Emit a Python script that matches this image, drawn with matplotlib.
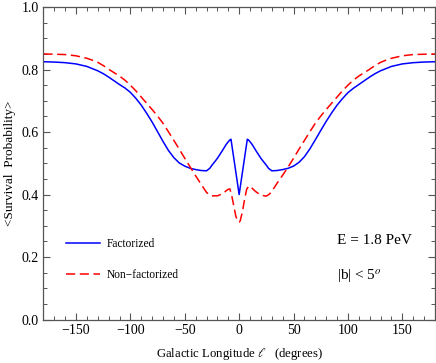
import matplotlib
matplotlib.use('Agg')
from matplotlib import pyplot as plt
from matplotlib.ticker import MultipleLocator
import numpy as np

plt.rcParams['font.family'] = ['Liberation Serif', 'DejaVu Serif']
plt.rcParams['mathtext.fontset'] = 'stix'

# galactic longitude (degrees)
lon_fact = [-180, -170, -160, -150, -145, -140, -135, -130, -125, -120, -115, -110, -105,
            -100, -95, -90, -85, -80, -75, -70, -65, -60, -55, -50, -45, -40, -35, -30,
            -27, -25, -22, -20, -17, -15, -12, -10, -8.5, -7.5, 0,
            7.5, 8.5, 10, 12, 15, 17, 20, 22, 25, 27, 30, 35, 40, 45, 50, 55, 60, 65,
            70, 75, 80, 85, 90, 95, 100, 105, 110, 115, 120, 125, 130, 135, 140, 145,
            150, 160, 170, 180]
surv_fact = [0.825, 0.824, 0.822, 0.818, 0.814, 0.810, 0.803, 0.796, 0.787, 0.776, 0.764,
             0.752, 0.741, 0.727, 0.708, 0.686, 0.660, 0.632, 0.601, 0.570, 0.541, 0.518,
             0.501, 0.491, 0.484, 0.480, 0.477, 0.476, 0.484, 0.494, 0.507, 0.516, 0.532,
             0.543, 0.560, 0.569, 0.575, 0.577, 0.400,
             0.577, 0.575, 0.569, 0.560, 0.543, 0.532, 0.516, 0.507, 0.494, 0.484, 0.476,
             0.477, 0.480, 0.484, 0.491, 0.503, 0.521, 0.546, 0.575, 0.605, 0.634, 0.661,
             0.686, 0.707, 0.726, 0.740, 0.752, 0.764, 0.776, 0.787, 0.796, 0.803, 0.810,
             0.814, 0.818, 0.822, 0.824, 0.825]

lon_nonfact = [-180, -170, -160, -150, -145, -140, -135, -130, -125, -120, -115, -110,
               -105, -100, -95, -90, -85, -80, -75, -70, -65, -60, -55, -50, -45, -40,
               -35, -30, -27, -25, -20, -15, -12, -10, -8.5, -7, -5, -3, -1, 0, 1, 3, 5,
               7, 9, 10, 12, 15, 20, 25, 28, 30, 35, 40, 45, 50, 55, 60, 65, 70, 75, 80,
               85, 90, 95, 100, 105, 110, 115, 120, 125, 130, 135, 140, 145, 150, 160,
               170, 180]
surv_nonfact = [0.850, 0.849, 0.848, 0.844, 0.840, 0.836, 0.830, 0.823, 0.813, 0.801,
                0.790, 0.779, 0.766, 0.750, 0.732, 0.712, 0.692, 0.672, 0.651, 0.628,
                0.601, 0.573, 0.545, 0.516, 0.488, 0.460, 0.433, 0.407, 0.398, 0.396,
                0.396, 0.403, 0.412, 0.417, 0.418, 0.400, 0.365, 0.330, 0.313, 0.312,
                0.316, 0.345, 0.385, 0.418, 0.427, 0.427, 0.420, 0.410, 0.398, 0.395,
                0.402, 0.410, 0.437, 0.462, 0.488, 0.516, 0.545, 0.573, 0.601, 0.628,
                0.651, 0.672, 0.692, 0.712, 0.732, 0.750, 0.766, 0.779, 0.790, 0.801,
                0.813, 0.823, 0.830, 0.836, 0.840, 0.844, 0.848, 0.849, 0.850]

fig = plt.figure(figsize=(4.36, 3.63), dpi=100)
ax = fig.add_axes([0.0995, 0.1196, 0.898, 0.861])

ax.plot(lon_fact, surv_fact, color='#0000ff', lw=1.1, label='Factorized')
ax.plot(lon_nonfact, surv_nonfact, color='#ff0000', lw=1.1, ls=(0, (6, 3)),
        label='Non\u2212factorized')

ax.set_xlim(-180, 180)
ax.set_ylim(0, 1)
ax.xaxis.set_major_locator(MultipleLocator(50))
ax.xaxis.set_minor_locator(MultipleLocator(10))
ax.yaxis.set_major_locator(MultipleLocator(0.2))
ax.yaxis.set_minor_locator(MultipleLocator(0.05))
ax.set_yticks(np.arange(0, 1.01, 0.2))
ax.set_yticklabels(['0.0', '0.2', '0.4', '0.6', '0.8', '1.0'])
ax.set_xticklabels([str(int(v)).replace('-', '\u2212') for v in ax.get_xticks()])

for s in ax.spines.values():
    s.set_color('#555555')
    s.set_linewidth(0.9)
ax.tick_params(which='both', direction='in', top=True, right=True, color='#555555',
               labelsize=10, labelcolor='black')
ax.tick_params(which='major', length=5, width=0.8)
ax.tick_params(which='minor', length=3, width=0.7)

ax.set_xlabel(r'Galactic Longitude $\ell$   (degrees)', fontsize=9.2, labelpad=6)
ax.set_ylabel('<Survival  Probability>', fontsize=9.5, labelpad=4)

ax.legend(loc='upper left', bbox_to_anchor=(0.03, 0.295), frameon=False, fontsize=8.3,
          handlelength=3.0, labelspacing=1.65, handletextpad=0.6)

ax.text(0.75, 0.252, 'E = 1.8 PeV', transform=ax.transAxes, fontsize=11, va='center')
ax.text(0.75, 0.14, r'|b| < 5$^{o}$', transform=ax.transAxes, fontsize=11, va='center')

plt.savefig('out.png', dpi=100)
